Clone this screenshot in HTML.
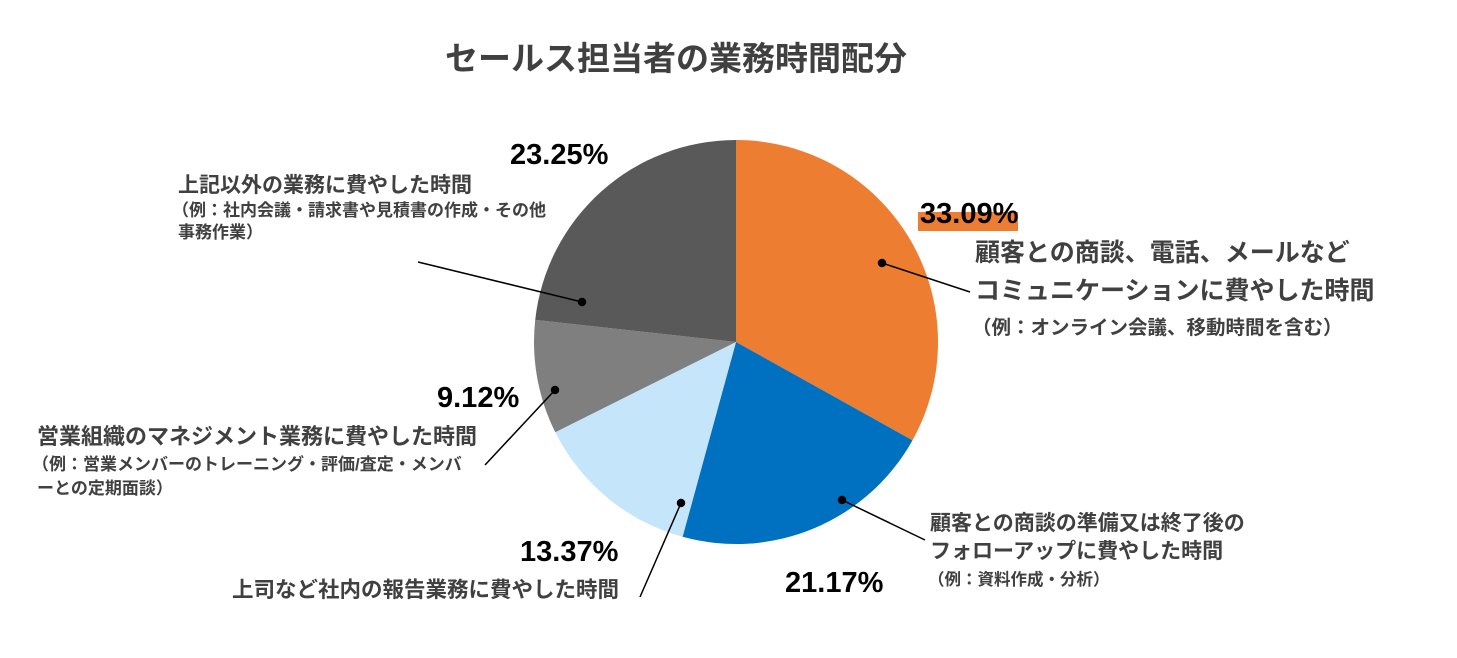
<!DOCTYPE html>
<html><head><meta charset="utf-8"><style>
body{margin:0;background:#fff;width:1457px;height:658px;overflow:hidden}
svg{display:block;font-family:"Liberation Sans","Noto Sans CJK JP",sans-serif}
.t{fill:#404040;font-weight:bold}
.p{fill:#000;font-weight:bold;font-size:29px}
</style></head><body>
<svg id="c" width="1457" height="658">
<text class="t" x="676" y="70" font-size="33" text-anchor="middle">セールス担当者の業務時間配分</text>
<g id="slices"></g>
<rect x="918" y="212" width="100" height="19" fill="#ED7D31"/>
<text class="p" x="920" y="223">33.09%</text>
<text class="p" x="785" y="592">21.17%</text>
<text class="p" x="520" y="561">13.37%</text>
<text class="p" x="437" y="407">9.12%</text>
<text class="p" x="510" y="164">23.25%</text>
<g>
<text class="t" x="975" y="261" font-size="25">顧客との商談、電話、メールなど</text>
<text class="t" x="975" y="299" font-size="25">コミュニケーションに費やした時間</text>
<text class="t" x="972" y="334" font-size="19.5">（例：オンライン会議、移動時間を含む）</text>
</g>
<g>
<text class="t" x="930" y="530" font-size="21">顧客との商談の準備又は終了後の</text>
<text class="t" x="930" y="558" font-size="21">フォローアップに費やした時間</text>
<text class="t" x="928" y="585" font-size="16.5">（例：資料作成・分析）</text>
</g>
<g>
<text class="t" x="232" y="597" font-size="21.5">上司など社内の報告業務に費やした時間</text>
</g>
<g>
<text class="t" x="37" y="444" font-size="22">営業組織のマネジメント業務に費やした時間</text>
<text class="t" x="32" y="470" font-size="17">（例：営業メンバーのトレーニング・評価/査定・メンバ</text>
<text class="t" x="37" y="494" font-size="17">ーとの定期面談）</text>
</g>
<g>
<text class="t" x="178" y="192" font-size="21">上記以外の業務に費やした時間</text>
<text class="t" x="172" y="216" font-size="17">（例：社内会議・請求書や見積書の作成・その他</text>
<text class="t" x="178" y="238" font-size="17">事務作業）</text>
</g>
<g id="leaders" stroke="#000" stroke-width="1.5" fill="#000">
<line x1="882" y1="263" x2="970" y2="292"/><circle cx="882" cy="263" r="3.5"/>
<line x1="842" y1="500" x2="925" y2="540"/><circle cx="842" cy="500" r="3.5"/>
<line x1="681" y1="503" x2="640" y2="597"/><circle cx="681" cy="503" r="3.5"/>
<line x1="555" y1="390" x2="485" y2="465"/><circle cx="555" cy="390" r="3.5"/>
<line x1="582" y1="302" x2="418" y2="262"/><circle cx="582" cy="302" r="3.5"/>
</g>
</svg>
<script>
const categories=["customer","prep","report","management","other"];
const values=[33.09,21.17,13.37,9.12,23.25];
const colors=["#ED7D31","#0070C0","#C5E5FA","#7F7F7F","#595959"];
const cx=736,cy=342,r=202;
const g=document.getElementById('slices');
const total=values.reduce((a,b)=>a+b,0);
let a0=0;
values.forEach((v,i)=>{
  const a1=a0+v/total*2*Math.PI;
  const x0=cx+r*Math.sin(a0),y0=cy-r*Math.cos(a0),x1=cx+r*Math.sin(a1),y1=cy-r*Math.cos(a1);
  const p=document.createElementNS('http://www.w3.org/2000/svg','path');
  p.setAttribute('d',`M${cx},${cy}L${x0},${y0}A${r},${r} 0 ${a1-a0>Math.PI?1:0} 1 ${x1},${y1}Z`);
  p.setAttribute('fill',colors[i]);
  
  
  g.appendChild(p);
  a0=a1;
});
</script>
</body></html>
